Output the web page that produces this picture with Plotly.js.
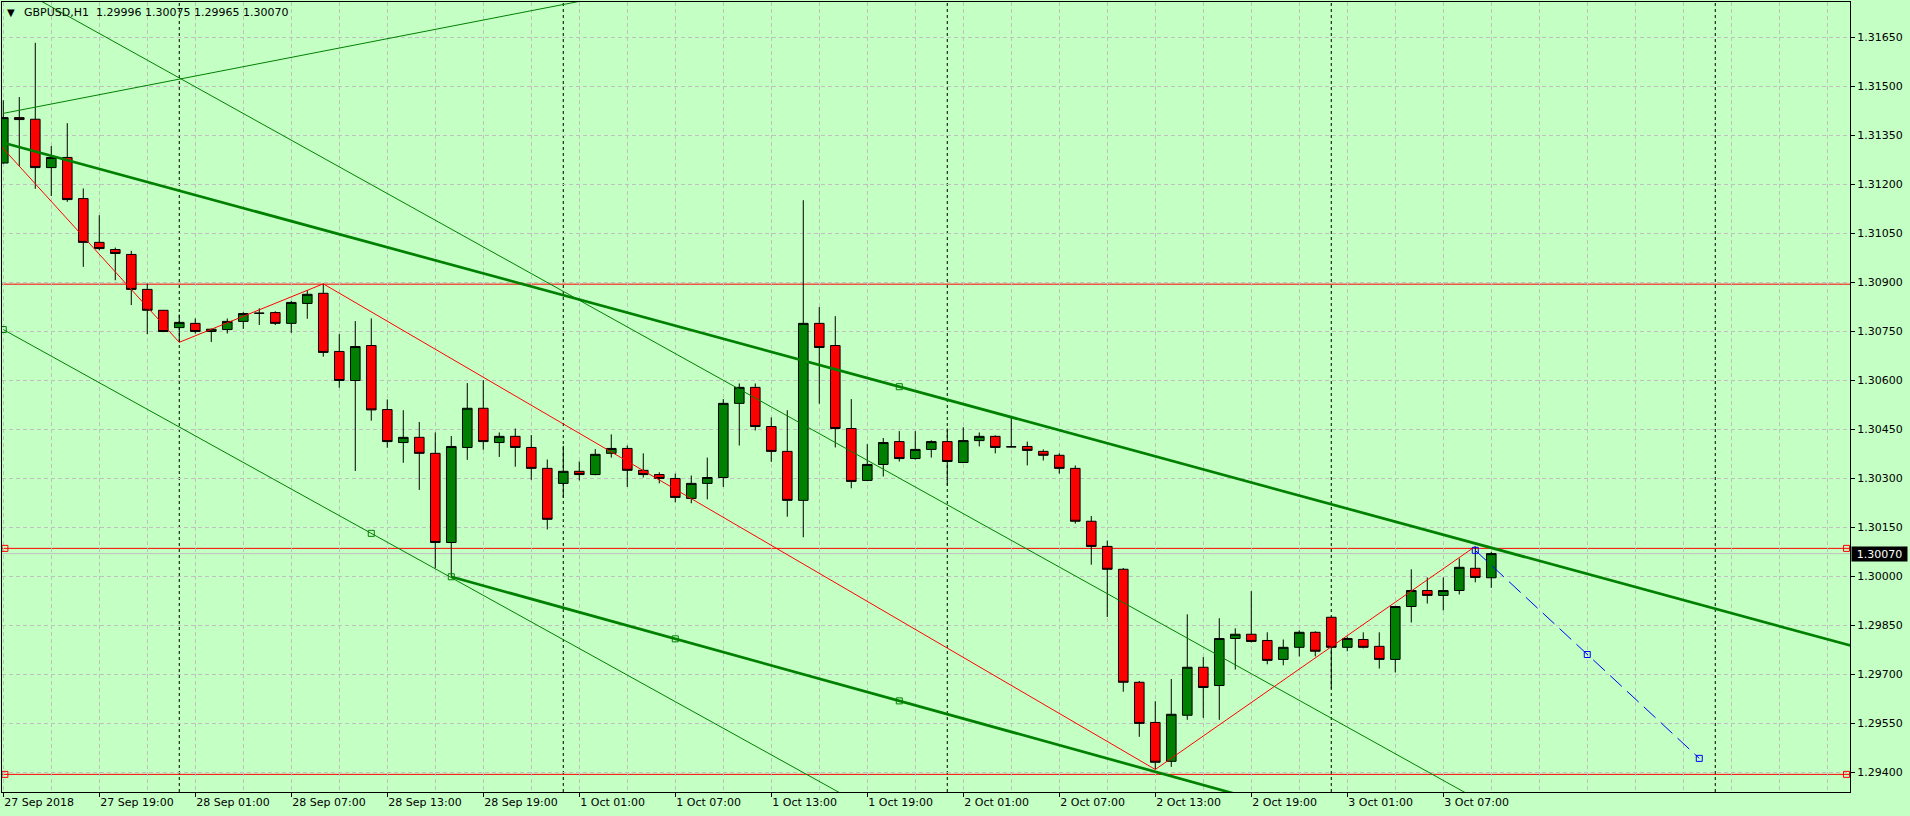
<!DOCTYPE html>
<html><head><meta charset="utf-8">
<script src="https://cdn.plot.ly/plotly-3.0.1.min.js"></script>
<style>html,body{margin:0;padding:0;background:#c4ffc4;overflow:hidden}#chart{width:1910px;height:816px}</style>
</head><body><div id="chart"></div>
<script>
// ---------- DATA ----------
const symbol = "GBPUSD,H1";
const opens = [1.31266,1.31405,1.31400,1.31252,1.31283,1.31157,1.31023,1.31001,1.30986,1.30879,
1.30815,1.30762,1.30775,1.30750,1.30756,1.30781,1.30806,1.30808,1.30775,1.30836,
1.30867,1.30689,1.30600,1.30707,1.30511,1.30410,1.30426,1.30377,1.30104,1.30395,
1.30515,1.30410,1.30429,1.30395,1.30331,1.30285,1.30322,1.30312,1.30377,1.30392,
1.30325,1.30312,1.30300,1.30239,1.30285,1.30303,1.30530,1.30579,1.30459,1.30383,
1.30233,1.30775,1.30707,1.30453,1.30294,1.30343,1.30413,1.30361,1.30389,1.30413,
1.30349,1.30416,1.30429,1.30397,1.30398,1.30383,1.30371,1.30331,1.30169,1.30092,
1.30022,1.29676,1.29553,1.29434,1.29575,1.29722,1.29666,1.29810,1.29823,1.29804,
1.29746,1.29783,1.29829,1.29875,1.29783,1.29807,1.29786,1.29746,1.29908,1.29957,
1.29942,1.29957,1.30025,1.29996];
const highs = [1.31458,1.31468,1.31634,1.31318,1.31388,1.31188,1.31106,1.31007,1.30997,1.30897,
1.30816,1.30802,1.30790,1.30759,1.30790,1.30809,1.30821,1.30812,1.30844,1.30877,
1.30896,1.30742,1.30782,1.30790,1.30542,1.30509,1.30473,1.30441,1.30430,1.30592,
1.30601,1.30441,1.30453,1.30433,1.30358,1.30400,1.30352,1.30390,1.30435,1.30401,
1.30377,1.30319,1.30315,1.30309,1.30364,1.30543,1.30591,1.30591,1.30487,1.30509,
1.31152,1.30825,1.30797,1.30543,1.30405,1.30424,1.30445,1.30445,1.30417,1.30453,
1.30457,1.30441,1.30432,1.30487,1.30413,1.30389,1.30377,1.30340,1.30185,1.30110,
1.30026,1.29680,1.29618,1.29686,1.29884,1.29753,1.29872,1.29841,1.29955,1.29829,
1.29807,1.29835,1.29832,1.29877,1.29816,1.29829,1.29829,1.29910,1.30022,1.29997,
1.29997,1.30055,1.30092,1.30075];
const lows = [1.31264,1.31257,1.31187,1.31165,1.31147,1.30948,1.30999,1.30907,1.30831,1.30742,
1.30748,1.30717,1.30744,1.30718,1.30744,1.30758,1.30770,1.30770,1.30746,1.30789,
1.30673,1.30578,1.30323,1.30477,1.30394,1.30348,1.30265,1.30025,1.29999,1.30357,
1.30388,1.30366,1.30336,1.30296,1.30144,1.30241,1.30294,1.30310,1.30364,1.30274,
1.30303,1.30285,1.30227,1.30224,1.30236,1.30274,1.30401,1.30447,1.30351,1.30183,
1.30120,1.30529,1.30395,1.30270,1.30292,1.30306,1.30352,1.30358,1.30364,1.30279,
1.30347,1.30398,1.30377,1.30395,1.30340,1.30355,1.30315,1.30162,1.30036,1.29876,
1.29647,1.29509,1.29409,1.29417,1.29561,1.29567,1.29561,1.29715,1.29798,1.29731,
1.29728,1.29755,1.29755,1.29657,1.29771,1.29780,1.29718,1.29706,1.29859,1.29917,
1.29896,1.29945,1.29982,1.29965];
const closes = [1.31405,1.31399,1.31252,1.31283,1.31154,1.31023,1.31004,1.30989,1.30879,1.30815,
1.30750,1.30778,1.30750,1.30757,1.30781,1.30805,1.30806,1.30775,1.30839,1.30864,
1.30686,1.30600,1.30704,1.30510,1.30413,1.30426,1.30377,1.30104,1.30398,1.30515,
1.30413,1.30429,1.30395,1.30331,1.30175,1.30322,1.30312,1.30374,1.30392,1.30325,
1.30312,1.30300,1.30242,1.30285,1.30303,1.30530,1.30579,1.30459,1.30383,1.30233,
1.30775,1.30701,1.30453,1.30291,1.30343,1.30410,1.30361,1.30389,1.30413,1.30352,
1.30416,1.30429,1.30395,1.30397,1.30386,1.30371,1.30331,1.30169,1.30092,1.30022,
1.29676,1.29550,1.29431,1.29578,1.29722,1.29660,1.29810,1.29823,1.29801,1.29743,
1.29783,1.29829,1.29771,1.29783,1.29810,1.29783,1.29746,1.29908,1.29957,1.29942,
1.29957,1.30028,1.29997,1.30070];

const tickBars = [0,6,12,18,24,30,36,42,48,54,60,66,72,78,84,90];
const tickLabels = ["27 Sep 2018","27 Sep 19:00","28 Sep 01:00","28 Sep 07:00","28 Sep 13:00","28 Sep 19:00",
"1 Oct 01:00","1 Oct 07:00","1 Oct 13:00","1 Oct 19:00","2 Oct 01:00","2 Oct 07:00","2 Oct 13:00",
"2 Oct 19:00","3 Oct 01:00","3 Oct 07:00"];
const separatorBars = [11,35,59,83,107];

const zigzagBars = [-2,11,20,72,92];
const zigzagPrices = [1.31418,1.30717,1.30896,1.29409,1.30092];

const upperTrendBars = [0,56,116];
const upperTrendPrices = [1.31328,1.30581,1.29781];
const upperTrendHandleBars = [56];
const upperTrendHandlePrices = [1.30581];

const lowerTrendBars = [28,42,56,116];
const lowerTrendPrices = [1.29999,1.29809,1.29619,1.28805];

const thinUpBars = [0,40];
const thinUpPrices = [1.31418,1.31799];
const thinDownBars = [0,92];
const thinDownPrices = [1.31826,1.29321];
const channelBars = [0,23,54];
const channelPrices = [1.30756,1.30132,1.29291];
const channelHandleBars = [0,23];
const channelHandlePrices = [1.30756,1.30132];

const forecastBars = [92,99,106];
const forecastPrices = [1.30080,1.29761,1.29443];

const redLevels = [1.30895,1.30086,1.29394];
const redLevelHandles = [false,true,true];
const handleEdgeBars = [0.1,115.2];

// ---------- CHART ----------
const bars = opens.map((_, i) => i);
const last = closes.length - 1;
const GREEN = '#008000';

const traces = [];
traces.push({
  type:'candlestick', x:bars, open:opens, high:highs, low:lows, close:closes,
  increasing:{line:{color:'#000000',width:1}, fillcolor:GREEN},
  decreasing:{line:{color:'#000000',width:1}, fillcolor:'#ff0000'},
  whiskerwidth:0, hoverinfo:'skip', showlegend:false
});
function line(x,y,color,width,dash){
  traces.push({type:'scatter',mode:'lines',x:x,y:y,line:{color:color,width:width,dash:dash||'solid'},hoverinfo:'skip',showlegend:false});
}
function handles(x,y,color,clip){
  traces.push({type:'scatter',mode:'markers',x:x,y:y,cliponaxis:clip!==false,
    marker:{symbol:'square-open',size:6,color:color,line:{color:color,width:1}},hoverinfo:'skip',showlegend:false});
}
redLevels.forEach((lv,i)=>{
  if(redLevelHandles[i]) handles(handleEdgeBars,[lv,lv],'#ff0000',false);
});
line(thinUpBars,thinUpPrices,GREEN,1);
line(thinDownBars,thinDownPrices,GREEN,1);
line(channelBars,channelPrices,GREEN,1);
handles(channelHandleBars,channelHandlePrices,GREEN);
line(upperTrendBars,upperTrendPrices,GREEN,2.7);
handles(upperTrendHandleBars,upperTrendHandlePrices,GREEN);
line(lowerTrendBars,lowerTrendPrices,GREEN,2.7);
handles(lowerTrendBars.slice(0,3),lowerTrendPrices.slice(0,3),GREEN);
line(zigzagBars,zigzagPrices,'#ff0000',1);
line(forecastBars,forecastPrices,'#0000ff',1,'16px,7px');
handles(forecastBars,forecastPrices,'#0000ff');

const shapes = [];
separatorBars.forEach(b=>shapes.push({type:'line',xref:'x',yref:'paper',x0:b,x1:b,y0:0,y1:1,
  line:{color:'#000000',width:1,dash:'3px,3px'},layer:'between'}));
shapes.push({type:'line',xref:'paper',yref:'y',x0:0,x1:1,y0:closes[last],y1:closes[last],
  line:{color:'#c0c0c0',width:1},layer:'between'});
redLevels.forEach(lv=>shapes.push({type:'line',xref:'paper',yref:'y',x0:0,x1:1,y0:lv,y1:lv,
  line:{color:'#ff0000',width:1},layer:'between'}));

const titleText = symbol + '\u00a0\u00a0' + [opens[last],highs[last],lows[last],closes[last]].map(v=>v.toFixed(5)).join(' ');

const annotations = [
  {xref:'paper',yref:'paper',x:0.0049,y:0.9865,xanchor:'center',yanchor:'middle',text:'\u25BC',showarrow:false,font:{size:10,color:'#000'}},
  {xref:'paper',yref:'paper',x:0.0107,y:0.9865,xanchor:'left',yanchor:'middle',text:titleText,showarrow:false,font:{size:11,color:'#000'}},
  {xref:'paper',yref:'y',x:1,y:closes[last],xanchor:'left',yanchor:'middle',xshift:1,text:closes[last].toFixed(5),
   showarrow:false,bgcolor:'#000000',font:{size:11,color:'#ffffff'},width:52,height:11,borderpad:1.5,align:'center'}
];

const gridStyle = {gridcolor:'#c0c0c0',griddash:'4px,3px',gridwidth:1};
const layout = {
  width:1910,height:816,
  margin:{l:2,r:60,t:2,b:24,pad:0},
  paper_bgcolor:'#c4ffc4',plot_bgcolor:'#c4ffc4',
  font:{family:'DejaVu Sans',size:11,color:'#000000'},
  showlegend:false,
  boxgap:0.4, boxgroupgap:0,
  xaxis:Object.assign({
    type:'linear',range:[-0.08,115.42],rangeslider:{visible:false},
    tickmode:'array',tickvals:tickBars,ticktext:tickLabels,
    ticks:'outside',ticklen:4,tickcolor:'#000',tickwidth:1,
    ticklabelposition:'outside right',
    showgrid:true,
    minor:Object.assign({tickmode:'linear',tick0:0,dtick:3,showgrid:true,ticks:''},gridStyle),
    showline:true,linecolor:'#000',linewidth:1,mirror:true,zeroline:false,fixedrange:true
  },gridStyle),
  yaxis:Object.assign({
    side:'right',range:[1.29340,1.31759],tickmode:'linear',tick0:1.294,dtick:0.0015,tickformat:'.5f',
    ticks:'outside',ticklen:4,tickcolor:'#000',tickwidth:1,
    showgrid:true,showline:true,linecolor:'#000',linewidth:1,mirror:true,zeroline:false,fixedrange:true
  },gridStyle),
  shapes:shapes,
  annotations:annotations
};
Plotly.newPlot('chart',traces,layout,{staticPlot:true,displayModeBar:false});
</script>
</body></html>
